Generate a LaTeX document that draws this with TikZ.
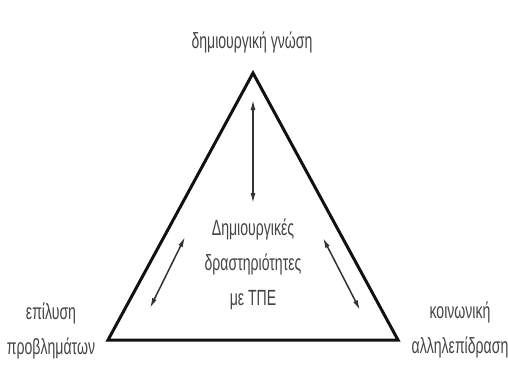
\documentclass[tikz,border=0pt]{standalone}
\usepackage{fontspec}
\newfontfamily\gr[FakeStretch=0.64]{Liberation Sans}
\usetikzlibrary{arrows.meta}
\definecolor{txt}{HTML}{444444}
\definecolor{edge}{HTML}{111111}
\definecolor{arr}{HTML}{333333}
\tikzset{
  lbl/.style={text=txt, align=center, inner sep=0pt, font=\gr\fontsize{22}{35}\selectfont},
  tri/.style={draw=edge, line width=3pt, line join=miter},
  twoway/.style={draw=arr, line width=1.5pt, {Latex[length=10pt,width=5pt]}-{Latex[length=10pt,width=5pt]}}
}
\begin{document}
\begin{tikzpicture}[x=1pt,y=-1pt]
\useasboundingbox (0,0) rectangle (508,365);
\coordinate (A) at (253,73);
\coordinate (BL) at (108,340);
\coordinate (BR) at (398,340);
\draw[tri] (A) -- (BL) -- (BR) -- cycle;
\node[lbl] (top) at (252,42) {δημιουργική γνώση};
\node[lbl] (left) at (51,331) {επίλυση\\προβλημάτων};
\node[lbl] (right) at (460,330) {κοινωνική\\αλληλεπίδραση};
\node[lbl] (mid) at (253,264) {Δημιουργικές\\δραστηριότητες\\με ΤΠΕ};
\coordinate (v1) at (253,100);
\coordinate (v2) at (253,203);
\coordinate (l1) at (150,308);
\coordinate (l2) at (185,237);
\coordinate (r1) at (323,238);
\coordinate (r2) at (360,310);
\draw[twoway] (v1) -- (v2);
\draw[twoway] (l1) -- (l2);
\draw[twoway] (r1) -- (r2);
\end{tikzpicture}
\end{document}
